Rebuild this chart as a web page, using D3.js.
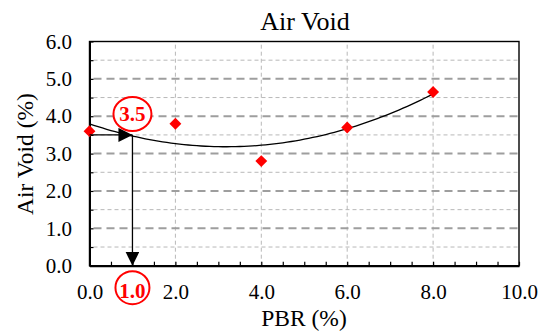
<!DOCTYPE html>
<html>
<head>
<meta charset="utf-8">
<script src="https://cdn.jsdelivr.net/npm/d3@7"></script>
<style>
  body { margin: 0; background: #fff; }
  text { font-family: "Liberation Serif", "Times New Roman", serif; }
</style>
</head>
<body>
<div id="chart"></div>
<script>
// Measured points
const pbr = [0, 2, 4, 6, 8];
const airVoid = [3.6, 3.8, 2.8, 3.7, 4.65];

// Tick values
const xTicks = [0, 2, 4, 6, 8, 10];
const yTicks = [0, 1, 2, 3, 4, 5, 6];
const yMinorTicks = [0.5, 1.5, 2.5, 3.5, 4.5, 5.5];

// Design reading: target air void and resulting PBR
const targetVoid = [3.5];
const optimumPbr = [1.0];

const width = 547, height = 335;
const svg = d3.select("#chart").append("svg")
    .attr("width", width)
    .attr("height", height)

// Scales
const x = d3.scaleLinear().domain([0, 10]).range([89.5, 519])
const y = d3.scaleLinear().domain([0, 6]).range([265.7, 41.5])
const fmt = d3.format(".1f")

// Gridlines, minor first so the major dashes sit on top
svg.append("g").selectAll("line").data(yMinorTicks).join("line")
    .attr("x1", x(0) + 4).attr("x2", x(10))
    .attr("y1", d => y(d)).attr("y2", d => y(d))
    .attr("stroke", "#b8b8b8").attr("stroke-width", 1)
    .attr("stroke-dasharray", "4,3")

svg.append("g").selectAll("line").data(xTicks.slice(1, -1)).join("line")
    .attr("x1", d => x(d)).attr("x2", d => x(d))
    .attr("y1", y(0)).attr("y2", y(6))
    .attr("stroke", "#b8b8b8").attr("stroke-width", 1)
    .attr("stroke-dasharray", "4,3")

svg.append("g").selectAll("line").data(yTicks.slice(1, -1)).join("line")
    .attr("x1", x(0) + 4).attr("x2", x(10))
    .attr("y1", d => y(d)).attr("y2", d => y(d))
    .attr("stroke", "#9e9e9e").attr("stroke-width", 2)
    .attr("stroke-dasharray", "8,5")

// Frame
svg.append("rect")
    .attr("x", x(0)).attr("y", y(6))
    .attr("width", x(10) - x(0)).attr("height", y(0) - y(6))
    .attr("fill", "none").attr("stroke", "#000").attr("stroke-width", 1.4)

// Minor inside ticks on both axes
const minorX = d3.range(0, 10.01, 0.5)
const minorY = d3.range(0, 6.01, 0.5)
svg.append("g")
    .attr("transform", `translate(0,${y(0)})`)
    .call(d3.axisBottom(x).tickValues(minorX).tickSize(-4).tickFormat(""))
    .call(g => g.select(".domain").remove())
    .call(g => g.selectAll("line").attr("stroke", "#000").attr("stroke-width", 1.2))
svg.append("g")
    .attr("transform", `translate(${x(0)},0)`)
    .call(d3.axisLeft(y).tickValues(minorY).tickSize(-4).tickFormat(""))
    .call(g => g.select(".domain").remove())
    .call(g => g.selectAll("line").attr("stroke", "#000").attr("stroke-width", 1.2))

// Bottom axis labels
svg.append("g")
    .attr("transform", `translate(0,${y(0)})`)
    .call(d3.axisBottom(x).tickValues(xTicks).tickSize(0).tickPadding(18).tickFormat(fmt))
    .call(g => g.select(".domain").attr("stroke", "#000").attr("stroke-width", 2))
    .call(g => g.selectAll("text").attr("font-size", 21).attr("fill", "#000")
        .attr("font-family", "Liberation Serif, Times New Roman, serif"))

// Left axis labels
svg.append("g")
    .attr("transform", `translate(${x(0)},0)`)
    .call(d3.axisLeft(y).tickValues(yTicks).tickSize(0).tickPadding(17.5).tickFormat(fmt))
    .call(g => g.select(".domain").attr("stroke", "#000").attr("stroke-width", 2))
    .call(g => g.selectAll("text").attr("font-size", 21).attr("fill", "#000")
        .attr("font-family", "Liberation Serif, Times New Roman, serif"))

// Second-order polynomial trendline fitted to the measured points
function polyFit2(xs, ys) {
    const s = k => d3.sum(xs, v => Math.pow(v, k))
    const t = k => d3.sum(xs, (v, i) => Math.pow(v, k) * ys[i])
    const A = [[s(0), s(1), s(2)], [s(1), s(2), s(3)], [s(2), s(3), s(4)]]
    const b = [t(0), t(1), t(2)]
    // Gaussian elimination
    for (let i = 0; i < 3; i++) {
        for (let j = i + 1; j < 3; j++) {
            const f = A[j][i] / A[i][i]
            for (let k = i; k < 3; k++) A[j][k] -= f * A[i][k]
            b[j] -= f * b[i]
        }
    }
    const c = [0, 0, 0]
    for (let i = 2; i >= 0; i--) {
        let acc = b[i]
        for (let k = i + 1; k < 3; k++) acc -= A[i][k] * c[k]
        c[i] = acc / A[i][i]
    }
    return c
}
const coef = polyFit2(pbr, airVoid)
const trend = d3.range(0, 8.001, 0.1).map(v => [v, coef[0] + coef[1] * v + coef[2] * v * v])

svg.append("path")
    .datum(trend)
    .attr("fill", "none")
    .attr("stroke", "#000")
    .attr("stroke-width", 1.3)
    .attr("d", d3.line().x(d => x(d[0])).y(d => y(d[1])))

// Data markers
svg.append("g").selectAll("path").data(pbr).join("path")
    .attr("transform", (d, i) => `translate(${x(d)},${y(airVoid[i])})`)
    .attr("d", d3.symbol(d3.symbolDiamond2, 90)())
    .attr("fill", "#ff0000")

// Reading arrows: target air void -> PBR
svg.append("defs").append("marker")
    .attr("id", "head")
    .attr("viewBox", "0 0 10 10")
    .attr("refX", 10).attr("refY", 5)
    .attr("markerWidth", 14).attr("markerHeight", 14)
    .attr("markerUnits", "userSpaceOnUse")
    .attr("orient", "auto")
  .append("path")
    .attr("d", "M0,0L10,5L0,10Z")
    .attr("fill", "#000")

svg.append("line")
    .attr("x1", x(0)).attr("y1", y(targetVoid[0]))
    .attr("x2", x(optimumPbr[0])).attr("y2", y(targetVoid[0]))
    .attr("stroke", "#000").attr("stroke-width", 1.3)
    .attr("marker-end", "url(#head)")

svg.append("line")
    .attr("x1", x(optimumPbr[0])).attr("y1", y(targetVoid[0]))
    .attr("x2", x(optimumPbr[0])).attr("y2", y(0))
    .attr("stroke", "#000").attr("stroke-width", 1.3)
    .attr("marker-end", "url(#head)")

// Circled callouts
svg.append("ellipse")
    .attr("cx", x(optimumPbr[0])).attr("cy", y(targetVoid[0]) - 21)
    .attr("rx", 19).attr("ry", 17)
    .attr("fill", "#fff").attr("stroke", "#ff0000").attr("stroke-width", 2)
svg.append("text")
    .attr("x", x(optimumPbr[0])).attr("y", y(targetVoid[0]) - 14)
    .attr("text-anchor", "middle")
    .attr("font-size", 21).attr("font-weight", "bold").attr("fill", "#ff0000")
    .text(fmt(targetVoid[0]))

svg.append("ellipse")
    .attr("cx", x(optimumPbr[0])).attr("cy", y(0) + 22)
    .attr("rx", 17).attr("ry", 16.5)
    .attr("fill", "#fff").attr("stroke", "#ff0000").attr("stroke-width", 2)
svg.append("text")
    .attr("x", x(optimumPbr[0])).attr("y", y(0) + 32)
    .attr("text-anchor", "middle")
    .attr("font-size", 21).attr("font-weight", "bold").attr("fill", "#ff0000")
    .text(fmt(optimumPbr[0]))

// Titles
svg.append("text")
    .attr("x", 305).attr("y", 30)
    .attr("text-anchor", "middle")
    .attr("font-size", 26)
    .text("Air Void")

svg.append("text")
    .attr("x", 304).attr("y", 326)
    .attr("text-anchor", "middle")
    .attr("font-size", 23.5)
    .text("PBR (%)")

svg.append("text")
    .attr("transform", "translate(33,154) rotate(-90)")
    .attr("text-anchor", "middle")
    .attr("font-size", 23.5)
    .text("Air Void (%)")
</script>
</body>
</html>
